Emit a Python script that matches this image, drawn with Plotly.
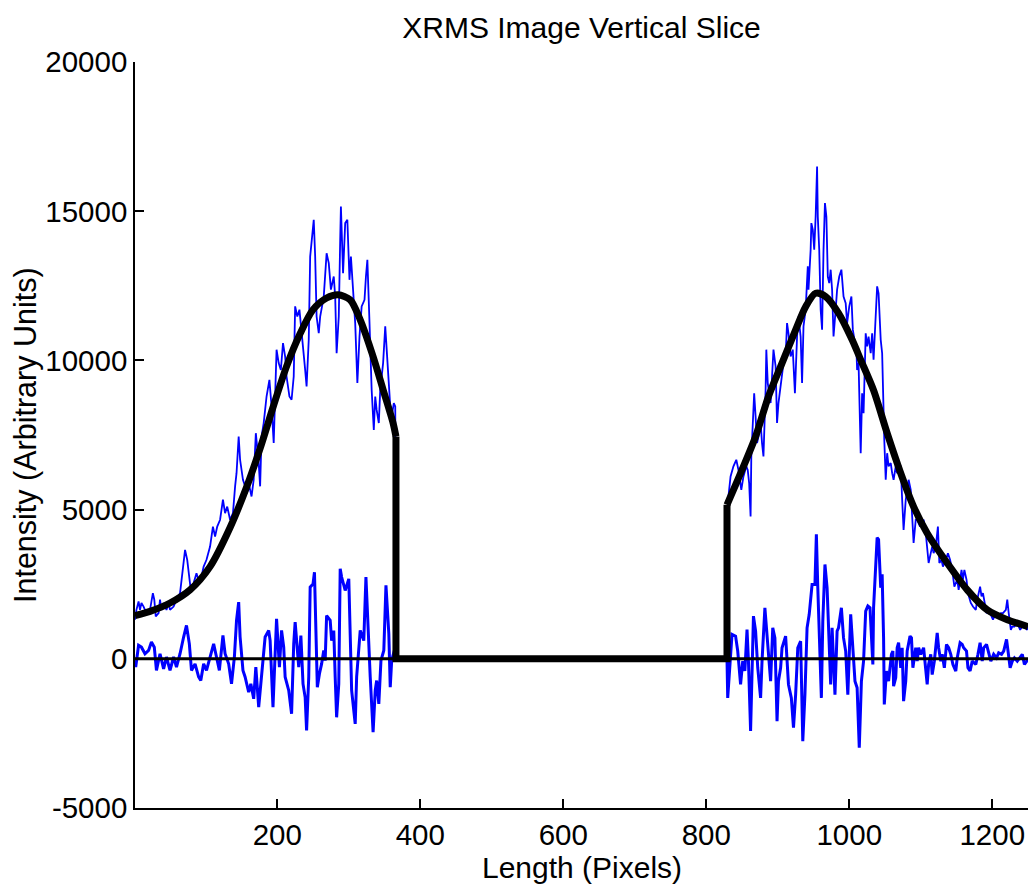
import plotly.graph_objects as go

# Measured intensity along the vertical slice (left and right peaks; centre masked to zero)
data_x = [1, 3, 6, 8, 10, 13, 17, 22, 26, 28, 30, 34, 36, 38, 41, 45, 48, 50, 55, 59, 64, 68, 71, 74, 77, 79,
          83, 87, 91, 94, 97, 101, 106, 110, 113, 116, 120, 124, 127, 130, 134, 138, 141, 143, 146, 148, 152,
          155, 157, 161, 164, 167, 170, 174, 176, 178, 181, 185, 189, 192, 195, 197, 199, 202, 205, 208, 211,
          213, 217, 220, 223, 225, 228, 231, 233, 236, 239, 241, 244, 246, 248, 251, 253, 255, 258, 260, 265,
          269, 272, 275, 279, 281, 283, 286, 288, 289, 292, 295, 298, 301, 303, 307, 309, 312, 315, 318, 322,
          324, 326, 329, 332, 335, 337, 339, 342, 344, 348, 351, 353, 356, 358, 360, 363, 365,
          366, 829,
          831, 834, 836, 838, 842, 845, 849, 852, 856, 858, 860, 862, 863, 865, 867, 869, 871, 873, 876, 878,
          880, 883, 884, 886, 890, 892, 894, 897, 899, 901, 904, 906, 908, 911, 913, 915, 918, 921, 924, 927,
          929, 932, 934, 936, 939, 942, 943, 946, 947, 949, 951, 953, 955, 956, 958, 960, 962, 964, 966, 968,
          970, 972, 974, 976, 978, 981, 983, 986, 989, 992, 995, 997, 1000, 1003, 1005, 1008, 1010, 1011, 1013,
          1016, 1018, 1020, 1023, 1025, 1027, 1030, 1032, 1034, 1037, 1039, 1041, 1044, 1046, 1047, 1049, 1051,
          1053, 1055, 1058, 1060, 1062, 1065, 1067, 1069, 1072, 1074, 1076, 1079, 1081, 1083, 1086, 1088, 1090,
          1093, 1095, 1099, 1102, 1104, 1107, 1109, 1111, 1114, 1116, 1118, 1121, 1124, 1126, 1129, 1131, 1135,
          1138, 1141, 1144, 1147, 1151, 1153, 1157, 1159, 1161, 1164, 1166, 1170, 1173, 1177, 1179, 1183, 1185,
          1187, 1189, 1192, 1195, 1199, 1201, 1205, 1208, 1212, 1215, 1219, 1221, 1223, 1226, 1228, 1231, 1235,
          1239, 1242, 1245, 1249, 1250]
data_y = [1310, 1640, 1920, 1640, 1870, 1750, 1530, 1640, 2200, 1980, 1420, 1530, 1980, 1640, 1870, 1640, 1870,
          1640, 1750, 1980, 2200, 2980, 3650, 3320, 2760, 2310, 2540, 2870, 2540, 2760, 3090, 3320, 3760, 4430,
          4100, 4430, 4660, 5330, 4880, 5100, 4660, 4880, 5780, 6220, 7450, 6670, 6000, 5780, 5550, 5780, 5440,
          6000, 7560, 6560, 5780, 7450, 7900, 8790, 9350, 8460, 7230, 9010, 10360, 9910, 9680, 10580, 10130,
          9460, 8790, 8680, 9460, 11810, 11470, 11700, 11250, 10580, 9680, 9130, 10690, 13480, 14040, 14710,
          13480, 11470, 10910, 11470, 12140, 13590, 13260, 12370, 12810, 12140, 10240, 11470, 14040, 15160,
          12920, 14600, 14710, 12700, 13480, 11810, 11250, 9240, 10800, 11810, 12030, 12810, 13370, 11250, 9010,
          7670, 8790, 8340, 7900, 9010, 9910, 11140, 10360, 9010, 8460, 8120, 8570, 8460,
          0, 0,
          5440, 6110, 6330, 6450, 6670, 6330, 5660, 6110, 6450, 6330, 5890, 4770, 6780, 7790, 8900, 8120, 7230,
          7450, 7900, 7230, 6780, 9010, 10360, 9240, 8570, 9460, 10360, 9800, 7900, 8570, 9240, 9460, 9910, 10130,
          11250, 10910, 10130, 10360, 8900, 10800, 11470, 10800, 9240, 11140, 11700, 13150, 12370, 13710, 14600,
          14380, 13710, 14820, 16500, 14820, 13710, 11700, 11030, 13710, 15270, 14820, 12810, 12590, 13040, 12370,
          10800, 11700, 12370, 12810, 13040, 12140, 11920, 11250, 11810, 12140, 11030, 10580, 10360, 9680, 9910,
          6890, 8900, 8230, 10910, 10470, 10800, 10240, 10910, 10020, 11580, 12480, 12250, 10690, 10240, 8900,
          7340, 6000, 6890, 6450, 6560, 6220, 6000, 6450, 6220, 6560, 6450, 5330, 4320, 5330, 5780, 6000, 5660,
          4880, 3880, 4660, 4660, 4430, 4550, 4660, 4210, 3760, 3210, 3540, 3760, 3540, 3760, 4430, 3210, 3320,
          3090, 3320, 3540, 3320, 2980, 2420, 2650, 2310, 2980, 2650, 2980, 2650, 2200, 1870, 1750, 1640, 1980,
          2420, 2090, 2200, 1870, 1530, 1640, 1420, 1310, 1530, 1420, 1530, 1530, 1640, 1980, 1530, 970, 1080,
          1080, 1200, 970, 1080, 1080, 970, 1080]

# Residual (measurement minus fit)
resid_x = [1, 2, 6, 10, 15, 20, 24, 28, 31, 36, 41, 45, 50, 55, 59, 64, 69, 73, 77, 80, 85, 90, 93, 97, 101,
           106, 111, 114, 119, 124, 127, 132, 136, 140, 143, 146, 148, 152, 155, 160, 163, 167, 170, 174, 176,
           180, 183, 188, 190, 194, 197, 199, 203, 206, 209, 211, 216, 220, 223, 225, 230, 233, 236, 239, 241,
           244, 246, 250, 252, 254, 256, 259, 262, 265, 267, 269, 274, 276, 279, 281, 283, 286, 288, 290, 295,
           300, 302, 304, 309, 311, 316, 321, 324, 328, 330, 334, 337, 339, 342, 345, 349, 352, 356, 358, 360,
           364, 366, 829,
           830, 836, 841, 844, 848, 851, 854, 857, 859, 862, 864, 866, 869, 872, 876, 878, 882, 885, 887, 890,
           893, 896, 899, 901, 904, 906, 911, 913, 915, 919, 922, 925, 928, 932, 935, 938, 941, 944, 948, 952,
           954, 956, 958, 961, 963, 966, 969, 971, 974, 976, 980, 983, 985, 989, 992, 995, 998, 1002, 1005,
           1008, 1011, 1014, 1017, 1020, 1023, 1026, 1029, 1031, 1033, 1034, 1037, 1039, 1041, 1044, 1046, 1048,
           1049, 1052, 1055, 1059, 1061, 1062, 1065, 1067, 1069, 1072, 1074, 1076, 1079, 1081, 1085, 1087, 1089,
           1093, 1095, 1097, 1100, 1104, 1109, 1111, 1114, 1116, 1119, 1123, 1125, 1128, 1130, 1133, 1136, 1139,
           1142, 1145, 1149, 1151, 1155, 1158, 1160, 1164, 1166, 1169, 1172, 1177, 1180, 1183, 1186, 1188, 1192,
           1195, 1198, 1200, 1202, 1206, 1209, 1213, 1216, 1220, 1222, 1225, 1228, 1231, 1235, 1239, 1242, 1245,
           1250]
resid_y = [-100, -280, 450, 390, 170, 280, 560, 390, -390, 170, -340, 60, -390, 60, -280, 170, 730, 1120, 500,
           -390, -170, -610, -730, -170, -390, 60, 500, 170, -390, 780, 170, -170, -840, 60, 1290, 1900, 730,
           -390, -610, -1120, -840, -1340, -280, -1620, -1060, 170, 730, 950, 610, -1620, 280, 1340, -280, 950,
           390, -610, -1060, -1840, 500, 1230, -280, 780, -840, -1290, -2400, -610, 2400, 2510, 2900, 390, -950,
           -500, -170, 280, -60, 1450, 1290, 610, 950, -610, -1960, -840, 3020, 2740, 2290, 2680, 500, -1060,
           -2180, -610, 950, 610, 2740, 390, -610, -2460, -1060, -730, -1510, -60, 280, 2460, 840, -950, -60,
           300, 0, 0,
           -1310, 820, 760, 260, -860, -80, -410, 980, -80, -2420, 30, 1430, 930, -300, -1310, -80, 1710, 700,
           150, -750, 1040, 700, -2090, -750, -300, 370, 760, -190, -860, -1310, -2310, -1200, 370, 590, -2760,
           -1200, 1040, 1490, 2490, 2490, 4170, 2380, 590, -1310, 1260, 3160, 2380, 1040, -860, 1040, -1200, 930,
           1040, 1710, 700, 260, -1200, 1490, 480, -750, -970, -2980, -750, -80, 1600, 1770, 1710, 930, -190,
           1710, 2940, 4060, 4000, 2380, 2830, 700, -1530, -410, -750, 150, 260, -920, -640, 370, 540, -300, 370,
           -1420, -750, 260, 760, 700, -300, 370, -80, 370, 150, 370, -860, -190, 150, -530, -80, 870, 370, -80,
           150, -300, 480, 370, 150, -190, -410, 30, 540, 480, 370, 260, -300, -410, -80, -190, 150, 540, -80,
           370, 480, 150, -80, 30, 150, 30, 200, 150, 260, 650, 260, -300, -80, 30, -80, 30, 150, -190, -20]

# Fitted profile: left peak, masked centre (zero) and right peak
fit_left_x = [1, 22, 50, 78, 106, 134, 157, 176, 195, 213, 232, 250, 269, 285, 302, 316, 334, 348, 362, 366]
fit_left_y = [1450, 1590, 1870, 2310, 3090, 4400, 5750, 7050, 8500, 9800, 10900, 11700, 12090, 12200, 12030,
              11360, 10130, 9020, 7900, 7450]
fit_mid_x = [366, 366, 829, 829]
fit_mid_y = [7450, 0, 0, 5160]
fit_right_x = [829, 850, 869, 887, 906, 925, 939, 953, 967, 985, 1004, 1016, 1034, 1053, 1072, 1090, 1109,
               1137, 1165, 1193, 1221, 1250]
fit_right_y = [5160, 6330, 7450, 8790, 9910, 11025, 11800, 12250, 12140, 11585, 10690, 10020, 9000, 7560,
               6220, 5100, 4210, 3210, 2310, 1640, 1310, 1080]

x_ticks = [200, 400, 600, 800, 1000, 1200]
y_ticks = [-5000, 0, 5000, 10000, 15000, 20000]
y_tick_text = ["-5000", "0", "5000", "10000", "15000", "20000"]
x_range = [1, 1250]
y_range = [-5000, 20000]

FONT = "Liberation Sans, Arial, Helvetica, sans-serif"
BLUE = "#0000ff"

fig = go.Figure()
fig.add_trace(go.Scatter(x=data_x, y=data_y, mode="lines",
                         line=dict(color=BLUE, width=1.8), showlegend=False))
fig.add_trace(go.Scatter(x=resid_x, y=resid_y, mode="lines",
                         line=dict(color=BLUE, width=3), showlegend=False))
for fx, fy, shape in [(fit_left_x, fit_left_y, "spline"),
                      (fit_mid_x, fit_mid_y, "linear"),
                      (fit_right_x, fit_right_y, "spline")]:
    fig.add_trace(go.Scatter(x=fx, y=fy, mode="lines",
                             line=dict(color="#000000", width=7, shape=shape, smoothing=0.8),
                             showlegend=False))
fig.add_hline(y=0, line=dict(color="#000000", width=3), layer="above")

fig.update_layout(
    width=1030, height=886,
    margin=dict(l=135, r=2, t=62, b=78, autoexpand=False),
    paper_bgcolor="white", plot_bgcolor="white",
    font=dict(family=FONT, color="black"),
    title=dict(text="XRMS Image Vertical Slice", x=(135 + 1028) / 2 / 1030, xanchor="center",
               y=1 - 27 / 886, yanchor="middle", font=dict(size=30, family=FONT, color="black")),
    xaxis=dict(range=x_range, tickvals=x_ticks, ticks="inside", ticklen=9, tickwidth=1.5,
               tickcolor="black", showline=True, linecolor="black", linewidth=1.5,
               showgrid=False, zeroline=False, tickfont=dict(size=29.5, family=FONT),
               ticklabelstandoff=0),
    yaxis=dict(range=y_range, tickvals=y_ticks, ticktext=y_tick_text, ticks="inside", ticklen=9,
               tickwidth=1.5, tickcolor="black", showline=True, linecolor="black", linewidth=1.5,
               showgrid=False, zeroline=False, tickfont=dict(size=29.5, family=FONT),
               ticklabelstandoff=0),
    annotations=[
        dict(text="Length (Pixels)", xref="paper", yref="paper", x=0.5, y=(808 - 867) / 746,
             xanchor="center", yanchor="middle", showarrow=False, font=dict(size=30, family=FONT)),
        dict(text="Intensity (Arbitrary Units)", xref="paper", yref="paper", x=(25 - 135) / 893,
             y=0.5, xanchor="center", yanchor="middle", textangle=-90, showarrow=False,
             font=dict(size=30.5, family=FONT)),
    ],
)

fig.write_html("out.html")
